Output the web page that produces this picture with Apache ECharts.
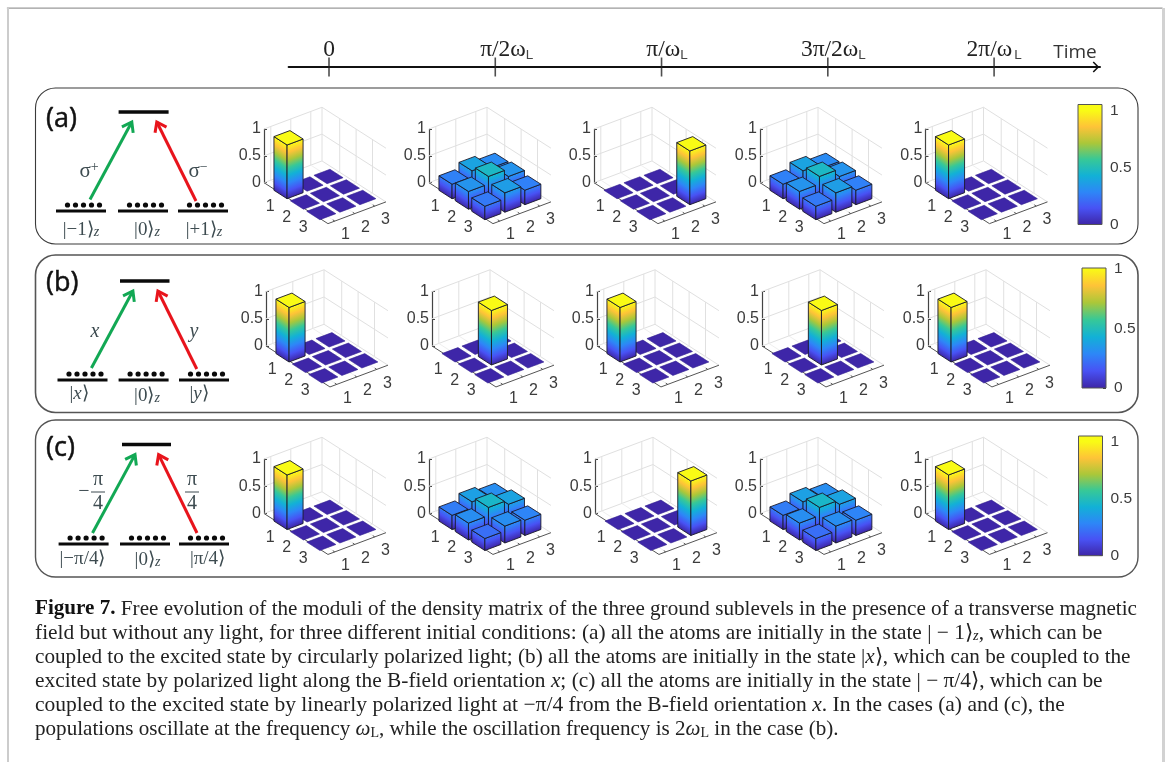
<!DOCTYPE html>
<html><head><meta charset="utf-8">
<style>html,body{margin:0;padding:0;background:#fff}#c{width:1165px;height:762px;filter:blur(0.35px)}</style>
<script src="https://cdn.jsdelivr.net/npm/echarts@6/dist/echarts.min.js"></script>
</head><body><div id="c"></div>
<script>
// ---------- data ----------
const timeValues = [0, 1, 2, 3, 4];
const timeLabels = ['0', 'π/2ω', 'π/ω', '3π/2ω', '2π/ω'];
const zTicks = [0, 0.5, 1];
const rowLabels = [1, 2, 3];
const colLabels = [1, 2, 3];
const colorbarTicks = [0, 0.5, 1];

const a1 = [[1, 0, 0], [0, 0, 0], [0, 0, 0]];
const a2 = [[0.27, 0.38, 0.3], [0.33, 0.47, 0.33], [0.25, 0.36, 0.27]];
const a3 = [[0, 0, 0], [0, 0, 0], [0, 0, 1]];
const a4 = [[0.27, 0.38, 0.3], [0.33, 0.47, 0.33], [0.25, 0.36, 0.27]];
const a5 = [[1, 0, 0], [0, 0, 0], [0, 0, 0]];
const b1 = [[1, 0, 0], [0, 0, 0], [0, 0, 0]];
const b2 = [[0, 0, 0], [0, 1, 0], [0, 0, 0]];
const b3 = [[1, 0, 0], [0, 0, 0], [0, 0, 0]];
const b4 = [[0, 0, 0], [0, 1, 0], [0, 0, 0]];
const b5 = [[1, 0, 0], [0, 0, 0], [0, 0, 0]];
const c1 = [[1, 0, 0], [0, 0, 0], [0, 0, 0]];
const c2 = [[0.26, 0.37, 0.31], [0.31, 0.46, 0.38], [0.22, 0.31, 0.28]];
const c3 = [[0, 0, 0], [0, 0, 0], [0, 0, 1]];
const c4 = [[0.26, 0.37, 0.31], [0.31, 0.46, 0.38], [0.22, 0.31, 0.28]];
const c5 = [[1, 0, 0], [0, 0, 0], [0, 0, 0]];

const parula = ['#3e26a8', '#4852f4', '#2d87f7', '#12b1d6', '#37c897', '#abc739', '#fec338', '#f9fb15'];

// ---------- layout ----------
const panels = [
  { mats: [a1, a2, a3, a4, a5], xs: [264, 429, 594, 760, 925.5], zTop: 129, zBottom: 182.7 },
  { mats: [b1, b2, b3, b4, b5], xs: [266, 432, 597, 762, 928], zTop: 291.5, zBottom: 346 },
  { mats: [c1, c2, c3, c4, c5], xs: [264, 429, 595, 760, 925.5], zTop: 459, zBottom: 513.5 }
];
const colorbars = [
  { left: 1078, top: 104.5, width: 24, height: 120, max: 1.053 },
  { left: 1082, top: 268, width: 24, height: 120, max: 1.004 },
  { left: 1078.5, top: 436, width: 24, height: 119.7, max: 1.05 }
];
const timeLabelShift = [0, 11.5, 5.5, 5.5, -1];
const view = { rowVec: [16.4, 10.5], colVec: [20, -7.5], rMin: -0.08, rMax: 3.82, cMin: 0.66, cMax: 3.56, barW: 0.8 };

function hex(c) { return [1, 3, 5].map(i => parseInt(c.substr(i, 2), 16)); }
function parulaAt(t) {
  const s = Math.max(0, Math.min(1, t)) * (parula.length - 1);
  const i = Math.min(parula.length - 2, Math.floor(s));
  const f = s - i, a = hex(parula[i]), b = hex(parula[i + 1]);
  return 'rgb(' + a.map((v, k) => Math.round(v + (b[k] - v) * f)).join(',') + ')';
}
function stopsUpTo(v) {
  const out = [];
  const n = parula.length - 1;
  for (let k = 0; k <= n; k++) { const t = k / n; if (t < v) out.push({ offset: t / v, color: parula[k] }); }
  out.push({ offset: 1, color: parulaAt(v) });
  return out;
}
function project(api, x0, r, c, z) {
  const p = api.coord([0, z]);
  return [
    x0 + (r - view.rMin) * view.rowVec[0] + (c - view.cMin) * view.colVec[0],
    p[1] + (r - view.rMin) * view.rowVec[1] + (c - view.cMin) * view.colVec[1]
  ];
}
function faceGradient(a, b, h, v) {
  const dx = b[0] - a[0], dy = b[1] - a[1], len = Math.hypot(dx, dy);
  const nx = -dy / len, ny = dx / len;
  const d = -h * ny;
  return { type: 'linear', global: true, x: a[0], y: a[1], x2: a[0] + nx * d, y2: a[1] + ny * d, colorStops: stopsUpTo(v) };
}
function barRender(x0) {
  return function (params, api) {
    const r = api.value(0), c = api.value(1), v = api.value(2), w = view.barW / 2;
    const P = (rr, cc, z) => project(api, x0, rr, cc, z);
    const top = [P(r - w, c - w, v), P(r + w, c - w, v), P(r + w, c + w, v), P(r - w, c + w, v)];
    if (v < 0.02) {
      return { type: 'polygon', shape: { points: top }, style: { fill: parula[0], stroke: '#33208f', lineWidth: 0.6 } };
    }
    const b1p = P(r - w, c - w, 0), b2p = P(r + w, c - w, 0), b3p = P(r + w, c + w, 0);
    const h = b1p[1] - top[0][1];
    const edge = { stroke: '#1a1a2a', lineWidth: 0.9 };
    return { type: 'group', children: [
      { type: 'polygon', shape: { points: [b1p, b2p, top[1], top[0]] }, style: Object.assign({ fill: faceGradient(b1p, b2p, h, v) }, edge) },
      { type: 'polygon', shape: { points: [b2p, b3p, top[2], top[1]] }, style: Object.assign({ fill: faceGradient(b2p, b3p, h, v) }, edge) },
      { type: 'polygon', shape: { points: top }, style: Object.assign({ fill: parulaAt(v) }, edge) }
    ] };
  };
}
function frameRender(x0) {
  return function (params, api) {
    const P = (r, c, z) => project(api, x0, r, c, z);
    const { rMin, rMax, cMin, cMax } = view;
    const kids = [];
    const ln = (a, b, col, lw) => kids.push({ type: 'line', shape: { x1: a[0], y1: a[1], x2: b[0], y2: b[1] }, style: { stroke: col, lineWidth: lw } });
    const grey = '#e0e0e0';
    zTicks.forEach(z => {
      ln(P(rMin, cMin, z), P(rMin, cMax, z), grey, 1);
      ln(P(rMin, cMax, z), P(rMax, cMax, z), grey, 1);
    });
    colLabels.forEach(c => {
      ln(P(rMin, c, 0), P(rMin, c, 1), grey, 1);
      ln(P(rMin, c, 0), P(rMax, c, 0), '#efefef', 1);
    });
    rowLabels.forEach(r => {
      ln(P(r, cMax, 0), P(r, cMax, 1), grey, 1);
      ln(P(r, cMin, 0), P(r, cMax, 0), '#efefef', 1);
    });
    ln(P(rMin, cMax, 0), P(rMin, cMax, 1), grey, 1);
    // front axes
    ln(P(rMin, cMin, 0), P(rMax, cMin, 0), '#555', 1);
    ln(P(rMax, cMin, 0), P(rMax, cMax, 0), '#555', 1);
    const font = { fontSize: 16, fontFamily: 'Liberation Sans', fill: '#3c3c3c', align: 'center', verticalAlign: 'middle' };
    rowLabels.forEach(r => {
      const p = P(r, cMin, 0);
      ln(p, P(r, cMin + 0.12, 0), '#555', 1);
      kids.push({ type: 'text', style: Object.assign({ x: p[0] - 11.4, y: p[1] + 12.6, text: String(r) }, font) });
    });
    colLabels.forEach(c => {
      const p = P(rMax, c, 0);
      ln(p, P(rMax - 0.12, c, 0), '#555', 1);
      kids.push({ type: 'text', style: Object.assign({ x: p[0] + 10.8, y: p[1] + 13.7, text: String(c) }, font) });
    });
    return { type: 'group', children: kids };
  };
}

// ---------- option assembly ----------
const grids = [], xAxes = [], yAxes = [], series = [];
panels.forEach(pn => {
  pn.mats.forEach((m, i) => {
    const idx = grids.length, x0 = pn.xs[i];
    grids.push({ left: x0, top: pn.zTop, width: 2, height: pn.zBottom - pn.zTop });
    xAxes.push({ gridIndex: idx, type: 'value', show: false, min: 0, max: 1 });
    yAxes.push({ gridIndex: idx, type: 'value', min: 0, max: 1, interval: 0.5, position: 'left',
      splitLine: { show: false },
      axisLine: { show: true, lineStyle: { color: '#444', width: 1.2 } },
      axisTick: { show: true, inside: true, length: 3, lineStyle: { color: '#444' } },
      axisLabel: { margin: 3, fontSize: 16, color: '#3c3c3c', fontFamily: 'Liberation Sans', formatter: v => String(v) } });
    series.push({ type: 'custom', xAxisIndex: idx, yAxisIndex: idx, z: 1, silent: true, renderItem: frameRender(x0), data: [[0, 0]], clip: false });
    const cells = [];
    for (let r = 1; r <= 3; r++) for (let c = 3; c >= 1; c--) cells.push([r, c, m[r - 1][c - 1]]);
    series.push({ type: 'custom', xAxisIndex: idx, yAxisIndex: idx, z: 2, silent: true, renderItem: barRender(x0), data: cells, clip: false,
      encode: { x: 0, y: 2 } });
  });
});
colorbars.forEach(cb => {
  const idx = grids.length;
  grids.push({ left: cb.left, top: cb.top, width: cb.width, height: cb.height, show: true, borderColor: '#555', borderWidth: 1, backgroundColor: 'transparent', z: 3 });
  xAxes.push({ gridIndex: idx, type: 'category', show: false, data: ['c'], boundaryGap: true });
  yAxes.push({ gridIndex: idx, type: 'value', position: 'right', min: 0, max: cb.max,
    splitLine: { show: false },
    axisLine: { show: false },
    axisTick: { show: true, inside: true, length: 3, lineStyle: { color: '#333' }, customValues: colorbarTicks },
    axisLabel: { margin: 8, fontSize: 15.5, color: '#3c3c3c', fontFamily: 'Liberation Sans', customValues: colorbarTicks, formatter: v => String(v) } });
  series.push({ type: 'bar', xAxisIndex: idx, yAxisIndex: idx, barWidth: '100%', silent: true, data: [cb.max],
    itemStyle: { color: { type: 'linear', x: 0, y: 1, x2: 0, y2: 0,
      colorStops: parula.map((col, k) => ({ offset: Math.min(1, k / (parula.length - 1) / cb.max), color: col })).concat([{ offset: 1, color: parula[parula.length - 1] }]) } } });
});
// time axis
{
  const idx = grids.length;
  const richT = { fontSize: 23.5, fontFamily: 'Liberation Serif', color: '#222', verticalAlign: 'bottom', lineHeight: 24 };
  const rich = { s: { fontSize: 13.5, fontFamily: 'Liberation Sans', color: '#444', verticalAlign: 'bottom', lineHeight: 21 } };
  timeLabelShift.forEach((d, k) => {
    rich['t' + k] = Object.assign({ padding: [0, d < 0 ? -2 * d : 0, 0, d > 0 ? 2 * d : 0] }, richT);
  });
  grids.push({ left: 288.6, top: 67, width: 811.4, height: 1 });
  xAxes.push({ gridIndex: idx, type: 'value', position: 'top', min: -0.243, max: 4.637,
    splitLine: { show: false },
    axisLine: { show: true, onZero: false, lineStyle: { color: '#111', width: 2 },
      symbol: ['none', 'path://M0,0 L10,10 L8,12 L0,4 L-8,12 L-10,10 Z'], symbolSize: [11, 9], symbolOffset: [0, -4] },
    axisTick: { show: false },
    axisLabel: { margin: 5, customValues: timeValues,
      formatter: v => {
        const k = timeValues.indexOf(v), s = timeLabels[k];
        return s === '0' ? '{t0|0}' : '{t' + k + '|' + s + '}{s|L}';
      },
      rich } });
  yAxes.push({ gridIndex: idx, type: 'value', show: false, min: 0, max: 1 });
  series.push({ type: 'scatter', xAxisIndex: idx, yAxisIndex: idx, silent: true, clip: false, symbol: 'rect', symbolSize: [1.6, 19],
    itemStyle: { color: '#222' }, data: timeValues.map(v => [v, 1]) });
}

// ---------- non-data artwork ----------
const g = [];
function rr(x, y, w, h, col, lw) { g.push({ type: 'rect', shape: { x, y, width: w, height: h, r: 20 }, style: { fill: 'none', stroke: col, lineWidth: lw }, silent: true }); }
rr(35.5, 88, 1102.5, 156, '#3a3a3a', 1.1);
rr(35.5, 255, 1102.5, 157.5, '#555', 1.6);
rr(35.5, 420, 1102.5, 157, '#555', 1.4);
g.push({ type: 'rect', shape: { x: 7.5, y: 8, width: 1154.5, height: 0.1 }, style: { fill: 'none', stroke: '#9a9a9a', lineWidth: 1.2 } });
g.push({ type: 'rect', shape: { x: 7, y: 8, width: 2, height: 754 }, style: { fill: '#cccccc' } });
g.push({ type: 'rect', shape: { x: 1162, y: 8, width: 3, height: 754 }, style: { fill: '#d2d2d2' } });

function txt(x, y, text, st) { g.push({ type: 'text', x, y, style: Object.assign({ text, align: 'center', verticalAlign: 'middle', fill: '#3d4b50', font: '15px "Liberation Serif"' }, st || {}) }); }
function seg(x1, y1, x2, y2, col, lw) { g.push({ type: 'line', shape: { x1, y1, x2, y2 }, style: { stroke: col, lineWidth: lw } }); }
function arrow(x1, y1, x2, y2, col) {
  seg(x1, y1, x2, y2, col, 3);
  const ang = Math.atan2(y2 - y1, x2 - x1), L = 11, s = 0.62;
  const w = d => [x2 - L * Math.cos(ang + d), y2 - L * Math.sin(ang + d)];
  g.push({ type: 'polyline', shape: { points: [w(s), [x2, y2], w(-s)] }, style: { stroke: col, lineWidth: 3, fill: 'none' } });
}
const ketRich = {
  n: { fontFamily: 'Liberation Serif', fontSize: 19, fill: '#3d4b50' },
  i: { fontFamily: 'Liberation Serif', fontStyle: 'italic', fontSize: 19, fill: '#3d4b50' },
  s: { fontFamily: 'Liberation Serif', fontStyle: 'italic', fontSize: 14, fill: '#3d4b50', verticalAlign: 'bottom' }
};
function ket(x, y, text) { g.push({ type: 'text', x, y, style: { text, rich: ketRich, align: 'center', verticalAlign: 'middle' } }); }
function levelSet(o) {
  seg(o.top[0], o.top[2], o.top[1], o.top[2], '#0a0a0a', 3.4);
  o.gx.forEach(gx => {
    seg(gx, o.gy, gx + 50, o.gy, '#0a0a0a', 3.2);
    [0, 1, 2, 3, 4].forEach(k => g.push({ type: 'circle', shape: { cx: gx + 11.5 + k * 8, cy: o.gy - 6, r: 2.6 }, style: { fill: '#0a0a0a' } }));
  });
  arrow(...o.green, '#12a854');
  arrow(...o.red, '#e8141c');
}
levelSet({ top: [118.6, 168.6, 112], gy: 211, gx: [56, 118, 178], green: [90, 199.5, 131.8, 122], red: [196, 201, 156.8, 122] });
levelSet({ top: [120, 169.5, 281], gy: 380, gx: [57.5, 118.6, 179], green: [91.4, 368, 132.9, 291], red: [196.8, 369, 157.9, 291] });
levelSet({ top: [122, 171, 444.5], gy: 544, gx: [58.6, 120, 179], green: [92.5, 533, 135, 454.6], red: [197, 533, 158.6, 454.6] });

ket(81, 230, '{n||−1⟩}{s|z}'); ket(147, 230, '{n||0⟩}{s|z}'); ket(204, 230, '{n||+1⟩}{s|z}');
ket(79, 394, '{n||}{i|x}{n|⟩}'); ket(147, 396, '{n||0⟩}{s|z}'); ket(199, 394, '{n||}{i|y}{n|⟩}');
ket(82.5, 559, '{n||−π/4⟩}'); ket(147.5, 560, '{n||0⟩}{s|z}'); ket(207.5, 559, '{n||π/4⟩}');

const sigmaRich = { n: { fontFamily: 'Liberation Serif', fontSize: 21, fill: '#3d4b50' }, u: { fontFamily: 'Liberation Serif', fontSize: 14, fill: '#3d4b50', verticalAlign: 'top' } };
g.push({ type: 'text', x: 89, y: 171, style: { text: '{n|σ}{u|+}', align: 'center', verticalAlign: 'middle', rich: sigmaRich } });
g.push({ type: 'text', x: 198, y: 171, style: { text: '{n|σ}{u|−}', align: 'center', verticalAlign: 'middle', rich: sigmaRich } });
txt(95, 332, 'x', { font: 'italic 20px "Liberation Serif"' });
txt(194, 332, 'y', { font: 'italic 20px "Liberation Serif"' });
txt(84, 492, '−', { font: '20px "Liberation Serif"' });
txt(98, 480, 'π', { font: '20px "Liberation Serif"' }); txt(98, 504, '4', { font: '20px "Liberation Serif"' });
seg(91, 492, 105, 492, '#3d4b50', 1);
txt(192, 480, 'π', { font: '20px "Liberation Serif"' }); txt(192, 504, '4', { font: '20px "Liberation Serif"' });
seg(185, 492, 199, 492, '#3d4b50', 1);

[['(a)', 119], ['(b)', 283.5], ['(c)', 448.5]].forEach(d => {
  g.push({ type: 'text', x: 46, y: d[1], style: { text: d[0], align: 'left', verticalAlign: 'middle', fill: '#111', stroke: '#111', lineWidth: 0.5, font: '27px "Open Sans"' } });
});
g.push({ type: 'text', x: 1075, y: 52.5, style: { text: 'Time', align: 'center', verticalAlign: 'middle', fill: '#333', font: '19px "Open Sans"' } });

const capRich = {
  n: { fontFamily: 'Liberation Serif', fontSize: 21, fill: '#222' },
  b: { fontFamily: 'Liberation Serif', fontWeight: 'bold', fontSize: 21, fill: '#111' },
  i: { fontFamily: 'Liberation Serif', fontStyle: 'italic', fontSize: 21, fill: '#222' },
  s: { fontFamily: 'Liberation Serif', fontSize: 14, fill: '#222', verticalAlign: 'bottom' },
  z: { fontFamily: 'Liberation Serif', fontStyle: 'italic', fontSize: 14, fill: '#222', verticalAlign: 'bottom' }
};
const captionLines = [
  '{b|Figure 7.}{n| Free evolution of the moduli of the density matrix of the three ground sublevels in the presence of a transverse magnetic}',
  '{n|field but without any light, for three different initial conditions: (a) all the atoms are initially in the state | − 1⟩}{z|z}{n|, which can be}',
  '{n|coupled to the excited state by circularly polarized light; (b) all the atoms are initially in the state |}{i|x}{n|⟩, which can be coupled to the}',
  '{n|excited state by polarized light along the B-field orientation }{i|x}{n|; (c) all the atoms are initially in the state | − π/4⟩, which can be}',
  '{n|coupled to the excited state by linearly polarized light at −π/4 from the B-field orientation }{i|x}{n|. In the cases (a) and (c), the}',
  '{n|populations oscillate at the frequency }{i|ω}{s|L}{n|, while the oscillation frequency is 2}{i|ω}{s|L}{n| in the case (b).}'
];
const captionFit = [1.006, 1.019, 1.009, 1.018, 1.024, 1.005];
captionLines.forEach((t, k) => g.push({ type: 'text', x: 35, y: 609 + k * 24.1, scaleX: captionFit[k], style: { text: t, rich: capRich, align: 'left', verticalAlign: 'middle' } }));

const chart = echarts.init(document.getElementById('c'), null, { renderer: 'canvas' });
chart.setOption({
  animation: false, backgroundColor: '#fff', tooltip: { show: false },
  grid: grids, xAxis: xAxes, yAxis: yAxes, series,
  graphic: { elements: g }
});
</script></body></html>
